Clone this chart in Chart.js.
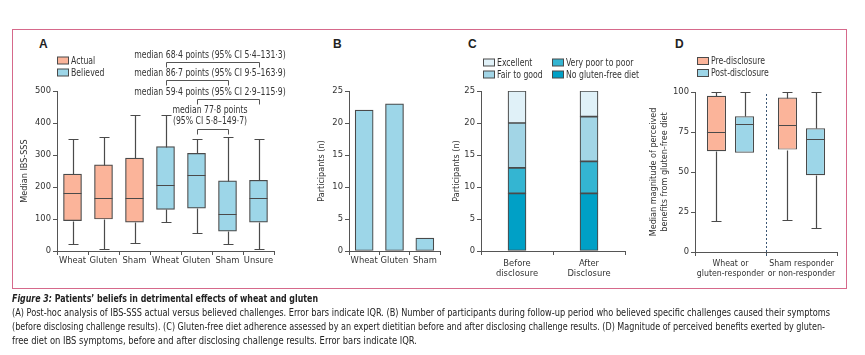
<!DOCTYPE html>
<html><head><meta charset="utf-8">
<script src="https://cdn.jsdelivr.net/npm/chart.js@4.4.1/dist/chart.umd.min.js"></script>
<style>
body{margin:0;background:#fff;width:865px;height:355px;overflow:hidden;position:relative;font-family:'DejaVu Sans Condensed','Liberation Sans Narrow',sans-serif;color:#2a2a2a}
canvas{position:absolute;left:0;top:0}
#frame{position:absolute;left:12px;top:29px;width:835px;height:260px;border:1.5px solid #d6698b;box-sizing:border-box}
.lbl{position:absolute;font-weight:bold;font-size:12px;font-family:'Liberation Sans','DejaVu Sans',sans-serif;color:#222;line-height:12px}
.cap{position:absolute;left:12px;white-space:nowrap;font-size:10px;line-height:13px;transform-origin:0 50%;color:#222}
</style></head>
<body>
<div id="frame"></div>
<div class="lbl" style="left:39px;top:38px">A</div>
<div class="lbl" style="left:333px;top:38px">B</div>
<div class="lbl" style="left:468px;top:38px">C</div>
<div class="lbl" style="left:675px;top:38px">D</div>
<canvas id="cA" width="865" height="355"></canvas>
<canvas id="cB" width="865" height="355"></canvas>
<canvas id="cC" width="865" height="355"></canvas>
<canvas id="cD" width="865" height="355"></canvas>
<div class="cap" data-w="306" style="top:292px;font-weight:bold"><i>Figure 3:</i> Patients’ beliefs in detrimental effects of wheat and gluten</div>
<div class="cap" data-w="818" style="top:306px">(A) Post-hoc analysis of IBS-SSS actual versus believed challenges. Error bars indicate IQR. (B) Number of participants during follow-up period who believed specific challenges caused their symptoms</div>
<div class="cap" data-w="813" style="top:320px">(before disclosing challenge results). (C) Gluten-free diet adherence assessed by an expert dietitian before and after disclosing challenge results. (D) Magnitude of perceived benefits exerted by gluten-</div>
<div class="cap" data-w="405" style="top:334px">free diet on IBS symptoms, before and after disclosing challenge results. Error bars indicate IQR.</div>
<script>
// ---------- DATA ----------
// Panel A: IBS-SSS box plots
const boxCategories = ['Wheat','Gluten','Sham','Wheat','Gluten','Sham','Unsure'];
const boxGroup = ['Actual','Actual','Actual','Believed','Believed','Believed','Believed'];
const boxMin    = [21, 5, 25, 90, 56, 23, 5];
const boxQ1     = [95, 100, 90, 130, 134, 62, 90];
const boxMedian = [181, 166, 166, 207, 236, 117, 166];
const boxQ3     = [240, 269, 290, 326, 305, 219, 221];
const boxMax    = [349, 357, 426, 424, 349, 355, 351];
const boxTicks  = [0, 100, 200, 300, 400, 500];
const bracketTexts = [
  ['median 68·4 points (95% CI 5·4–131·3)'],
  ['median 86·7 points (95% CI 9·5–163·9)'],
  ['median 59·4 points (95% CI 2·9–115·9)'],
  ['median 77·8 points', '(95% CI 5·8–149·7)']
];
const bracketFrom = [3, 3, 4, 4];
const bracketTo   = [6, 5, 6, 5];

// Panel B: believed culprit
const beliefCategories = ['Wheat','Gluten','Sham'];
const beliefCounts = [22, 23, 2];

// Panel C: gluten-free diet adherence
const adherenceCategories = [['Before','disclosure'],['After','Disclosure']];
const noGlutenFree = [9, 9];
const veryPoorToPoor = [4, 5];
const fairToGood = [7, 7];
const excellent = [5, 4];
const participantTicks = [0, 5, 10, 15, 20, 25];

// Panel D: perceived benefit
const benefitCategories = [['Wheat or','gluten-responder'],['Sham responder','or non-responder']];
const preMin = [19.6, 19.8], preQ1 = [63, 64], preMedian = [75, 79.6], preQ3 = [97.7, 96.5], preMax = [100, 100];
const postMin = [62, 14.8], postQ1 = [62, 48], postMedian = [80, 70.4], postQ3 = [84.8, 77.3], postMax = [100, 100];
const benefitTicks = [0, 25, 50, 75, 100];

// ---------- STYLE ----------
const FONT = "'DejaVu Sans Condensed','Liberation Sans Narrow',sans-serif";
Chart.defaults.font.family = FONT;
Chart.defaults.color = '#333';
Chart.defaults.animation = false;
const EDGE = '#4a4a4a', AXIS = '#555';
const C_ACT = '#fbb49a', C_BEL = '#9dd6e8';
const C_EXC = '#e0f1f8', C_FAIR = '#a2d5e6', C_POOR = '#34b5d2', C_NO = '#00a0c6';

function yScale(min, max, step, title, W) {
  return {
    min, max,
    ticks: {stepSize: step, padding: 2, font: {size: 9.3}, color: '#333'},
    grid: {drawOnChartArea: false, tickLength: 4, color: AXIS},
    border: {color: AXIS},
    title: {display: true, text: title, font: {size: 9, lineHeight: 1.25}, color: '#333', padding: {top: 4, bottom: 4}},
    afterFit(s) { s.width = W; }
  };
}
function xScale(H, pad, size) {
  return {
    type: 'category', offset: true,
    ticks: {padding: pad, font: {size: size || 9.3, lineHeight: 1.12}, color: '#333', maxRotation: 0, autoSkip: false},
    grid: {offset: true, drawOnChartArea: false, tickLength: 4, color: AXIS},
    border: {color: AXIS},
    afterFit(s) { s.height = H; }
  };
}
function condensedText(ctx, text, x, y, sx) {
  ctx.save();
  ctx.translate(x, y);
  ctx.scale(sx, 1);
  ctx.fillText(text, 0, 0);
  ctx.restore();
}
function legendPlugin(items) {
  return {
    id: 'lg', afterDraw(chart) {
      const ctx = chart.ctx;
      ctx.save();
      ctx.font = '10px ' + FONT;
      ctx.textBaseline = 'middle';
      items.forEach(it => {
        ctx.fillStyle = it.color; ctx.strokeStyle = EDGE; ctx.lineWidth = 1;
        ctx.fillRect(it.x + 0.5, it.y - 3.5, 11, 7);
        ctx.strokeRect(it.x + 0.5, it.y - 3.5, 11, 7);
        ctx.fillStyle = '#333';
        condensedText(ctx, it.text, it.x + 14, it.y + 0.5, 0.86);
      });
      ctx.restore();
    }
  };
}
function boxPlugin(sets) {
  return {
    id: 'bx', afterDatasetsDraw(chart) {
      const ctx = chart.ctx, y = chart.scales.y;
      ctx.save();
      ctx.strokeStyle = EDGE; ctx.lineWidth = 1.2;
      sets.forEach(s => {
        const meta = chart.getDatasetMeta(s.ds);
        s.med.forEach((m, i) => {
          if (s.use && !s.use(i)) return;
          const bar = meta.data[i];
          const x = Math.round(bar.x) + 0.5, w = bar.width;
          const py = v => Math.round(y.getPixelForValue(v)) + 0.5;
          ctx.beginPath();
          ctx.moveTo(x, py(s.q3[i])); ctx.lineTo(x, py(s.max[i]));
          ctx.moveTo(x - 5, py(s.max[i])); ctx.lineTo(x + 5, py(s.max[i]));
          if (s.min[i] < s.q1[i]) {
            ctx.moveTo(x, py(s.q1[i])); ctx.lineTo(x, py(s.min[i]));
            ctx.moveTo(x - 5, py(s.min[i])); ctx.lineTo(x + 5, py(s.min[i]));
          }
          ctx.moveTo(bar.x - w / 2, py(m)); ctx.lineTo(bar.x + w / 2, py(m));
          ctx.stroke();
        });
      });
      ctx.restore();
    }
  };
}
const common = {responsive: false, animation: false, events: [],
  plugins: {legend: {display: false}, tooltip: {enabled: false}}};

// ---------- PANEL A ----------
const bracketLevels = [{bar: -29, text: [-36]}, {bar: -11, text: [-17.5]}, {bar: 8, text: [1.5]}, {bar: 38, text: [19, 30.5]}];
const bracketPlugin = {
  id: 'br', afterDraw(chart) {
    const ctx = chart.ctx, x = chart.scales.x, top = chart.chartArea.top;
    const cx = (x.getPixelForValue(3) + x.getPixelForValue(6)) / 2 - 2;
    ctx.save();
    ctx.strokeStyle = AXIS; ctx.lineWidth = 1;
    ctx.font = '10px ' + FONT; ctx.fillStyle = '#333';
    ctx.textAlign = 'center'; ctx.textBaseline = 'middle';
    bracketTexts.forEach((lines, k) => {
      const lv = bracketLevels[k];
      const x1 = Math.round(x.getPixelForValue(bracketFrom[k])) + 0.5;
      const x2 = Math.round(x.getPixelForValue(bracketTo[k])) + 0.5;
      const by = Math.round(top + lv.bar) + 0.5;
      ctx.beginPath();
      ctx.moveTo(x1, by + 5); ctx.lineTo(x1, by); ctx.lineTo(x2, by); ctx.lineTo(x2, by + 5);
      ctx.stroke();
      lines.forEach((t, j) => condensedText(ctx, t, cx, top + lv.text[j], 0.86));
    });
    ctx.restore();
  }
};
new Chart(document.getElementById('cA'), {
  type: 'bar',
  data: {labels: boxCategories, datasets: ['Actual', 'Believed'].map((g, d) => ({
    label: g,
    data: boxCategories.map((c, i) => boxGroup[i] === g ? [boxQ1[i], boxQ3[i]] : null),
    backgroundColor: d ? C_BEL : C_ACT, borderColor: EDGE, borderWidth: 1.2, borderSkipped: false,
    barThickness: 18, grouped: false
  }))},
  options: Object.assign({}, common, {
    layout: {padding: {left: 15, right: 591, top: 91, bottom: 74}},
    scales: {x: xScale(30, 0), y: Object.assign(yScale(0, 500, 100, 'Median IBS-SSS', 42), {afterBuildTicks(s){ s.ticks = boxTicks.map(v => ({value: v})); }})}
  }),
  plugins: [
    boxPlugin([0, 1].map(d => ({ds: d, use: i => boxGroup[i] === (d ? 'Believed' : 'Actual'),
      min: boxMin, q1: boxQ1, med: boxMedian, q3: boxQ3, max: boxMax}))),
    legendPlugin([{text: 'Actual', color: C_ACT, x: 57, y: 60.5}, {text: 'Believed', color: C_BEL, x: 57, y: 72.5}]),
    bracketPlugin
  ]
});

// ---------- PANEL B ----------
new Chart(document.getElementById('cB'), {
  type: 'bar',
  data: {labels: beliefCategories, datasets: [{label: 'Participants', data: beliefCounts,
    backgroundColor: C_BEL, borderColor: EDGE, borderWidth: 1.2, borderSkipped: false, barThickness: 18}]},
  options: Object.assign({}, common, {
    layout: {padding: {left: 312, right: 425, top: 91, bottom: 74}},
    scales: {x: xScale(30, 0), y: Object.assign(yScale(0, 25, 5, 'Participants (n)', 37), {afterBuildTicks(s){ s.ticks = participantTicks.map(v => ({value: v})); }})}
  })
});

// ---------- PANEL C ----------
const stackSeries = [
  {label: 'No gluten-free diet', data: noGlutenFree, color: C_NO},
  {label: 'Very poor to poor', data: veryPoorToPoor, color: C_POOR},
  {label: 'Fair to good', data: fairToGood, color: C_FAIR},
  {label: 'Excellent', data: excellent, color: C_EXC}
];
new Chart(document.getElementById('cC'), {
  type: 'bar',
  data: {labels: adherenceCategories, datasets: stackSeries.map(s => ({label: s.label, data: s.data,
    backgroundColor: s.color, borderColor: EDGE, borderWidth: 1.2, borderSkipped: false, barThickness: 18}))},
  options: Object.assign({}, common, {
    layout: {padding: {left: 447, right: 240, top: 91, bottom: 74}},
    scales: {
      x: Object.assign(xScale(30, 3), {stacked: true}),
      y: Object.assign(yScale(0, 25, 5, 'Participants (n)', 34), {stacked: true, afterBuildTicks(s){ s.ticks = participantTicks.map(v => ({value: v})); }})
    }
  }),
  plugins: [legendPlugin([
    {text: 'Excellent', color: C_EXC, x: 483, y: 62.5},
    {text: 'Fair to good', color: C_FAIR, x: 483, y: 74.5},
    {text: 'Very poor to poor', color: C_POOR, x: 552, y: 62.5},
    {text: 'No gluten-free diet', color: C_NO, x: 552, y: 74.5}
  ])]
});

// ---------- PANEL D ----------
const dividerPlugin = {
  id: 'dv', beforeDatasetsDraw(chart) {
    const ctx = chart.ctx, x = chart.scales.x, a = chart.chartArea;
    const px = Math.round((x.getPixelForValue(0) + x.getPixelForValue(1)) / 2) + 0.5;
    ctx.save();
    ctx.strokeStyle = '#3b5674'; ctx.lineWidth = 1; ctx.setLineDash([2, 2]);
    ctx.beginPath(); ctx.moveTo(px, a.bottom + 4); ctx.lineTo(px, a.top); ctx.stroke();
    ctx.restore();
  }
};
new Chart(document.getElementById('cD'), {
  type: 'bar',
  data: {labels: benefitCategories, datasets: [
    {label: 'Pre-disclosure', data: preQ1.map((q, i) => [q, preQ3[i]]), backgroundColor: C_ACT},
    {label: 'Post-disclosure', data: postQ1.map((q, i) => [q, postQ3[i]]), backgroundColor: C_BEL}
  ].map(d => Object.assign(d, {borderColor: EDGE, borderWidth: 1.2, borderSkipped: false, categoryPercentage: 0.79, barPercentage: 0.68}))},
  options: Object.assign({}, common, {
    layout: {padding: {left: 644, right: 28, top: 92, bottom: 73}},
    scales: {x: xScale(30, 3, 8.7), y: Object.assign(yScale(0, 100, 25, ['Median magnitude of perceived', 'benefits from gluten-free diet'], 51), {afterBuildTicks(s){ s.ticks = benefitTicks.map(v => ({value: v})); }})}
  }),
  plugins: [
    dividerPlugin,
    boxPlugin([
      {ds: 0, min: preMin, q1: preQ1, med: preMedian, q3: preQ3, max: preMax},
      {ds: 1, min: postMin, q1: postQ1, med: postMedian, q3: postQ3, max: postMax}
    ]),
    legendPlugin([{text: 'Pre-disclosure', color: C_ACT, x: 697, y: 61}, {text: 'Post-disclosure', color: C_BEL, x: 697, y: 73}])
  ]
});

// fit caption lines to their measured widths
document.querySelectorAll('.cap').forEach(el => {
  const w = el.getBoundingClientRect().width;
  el.style.transform = 'scaleX(' + (parseFloat(el.dataset.w) / w) + ')';
});
</script>
</body></html>
